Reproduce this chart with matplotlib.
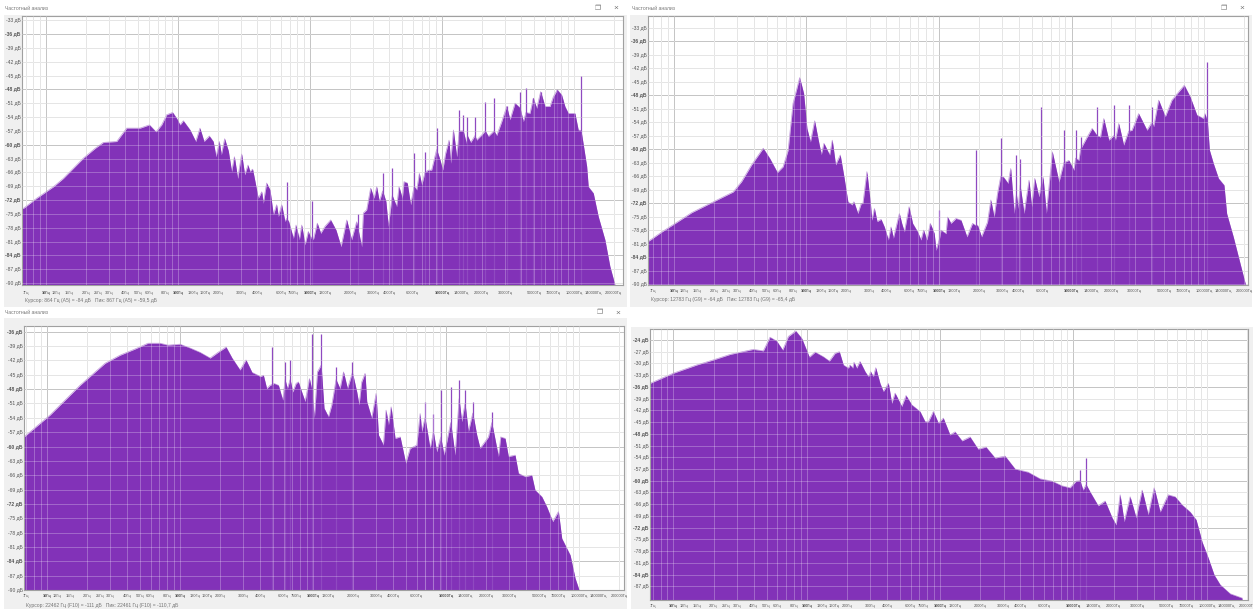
import numpy as np
import matplotlib
matplotlib.use('Agg')
import matplotlib.pyplot as plt
from matplotlib.patches import Rectangle

W, H = 1253, 609

# log10 of frequency (Hz) and level (dB)
lf1 = [.818, .828, .929, 1.056, 1.131, 1.283, 1.371, 1.434, 1.535, 1.611, 1.712, 1.783, 1.833, 1.876, 1.914, 1.959, 1.990,
       2.015, 2.040, 2.091, 2.134, 2.166, 2.197, 2.237, 2.267, 2.288, 2.313, 2.328, 2.353, 2.381, 2.406, 2.427, 2.452,
       2.482, 2.505, 2.530, 2.545, 2.565, 2.608, 2.634, 2.646, 2.671, 2.697, 2.722, 2.747, 2.760, 2.785, 2.810, 2.823,
       2.838, 2.874, 2.894, 2.919, 2.937, 2.962, 2.987, 3.007, 3.012, 3.025, 3.055, 3.081, 3.113, 3.156, 3.197, 3.235,
       3.278, 3.315, 3.353, 3.391, 3.404, 3.429, 3.459, 3.485, 3.505, 3.525, 3.550, 3.575, 3.593, 3.623, 3.656, 3.674,
       3.699, 3.712, 3.737, 3.762, 3.788, 3.808, 3.828, 3.846, 3.871, 3.896, 3.921, 3.959, 3.985, 4.005, 4.027, 4.053,
       4.065, 4.086, 4.111, 4.131, 4.161, 4.187, 4.192, 4.217, 4.250, 4.262, 4.300, 4.328, 4.351, 4.394, 4.414, 4.452,
       4.490, 4.515, 4.553, 4.591, 4.616, 4.636, 4.666, 4.692, 4.717, 4.747, 4.780, 4.818, 4.843, 4.873, 4.906, 4.931,
       4.957, 5.007, 5.032, 5.053, 5.065, 5.096, 5.108, 5.146, 5.184, 5.234, 5.272, 5.310]
db1 = [-73.8, -73.8, -71.6, -69.1, -67.3, -62.9, -60.8, -59.5, -59.3, -56.4, -56.4, -55.7, -57.2, -55.7, -53.5, -53.0, -54.3,
       -55.7, -54.8, -56.8, -59.3, -56.4, -59.3, -58.1, -59.3, -62.6, -59.3, -62.2, -58.7, -61.3, -65.8, -62.6, -67.3,
       -62.0, -66.5, -64.4, -65.8, -65.3, -71.6, -70.2, -72.7, -68.3, -69.8, -75.2, -73.0, -75.6, -73.0, -76.6, -76.0,
       -76.6, -80.3, -77.4, -80.6, -77.4, -81.7, -78.8, -80.3, -80.0, -80.6, -77.0, -79.2, -77.7, -76.3, -78.5, -82.1,
       -76.3, -80.6, -76.7, -82.1, -74.8, -74.1, -69.4, -71.6, -69.1, -72.3, -70.0, -72.3, -77.7, -71.0, -73.4, -69.1,
       -71.6, -68.0, -68.3, -73.0, -69.0, -69.8, -66.2, -68.7, -66.0, -65.5, -65.5, -61.0, -63.3, -65.5, -61.9, -59.0,
       -64.0, -56.8, -62.6, -57.0, -57.0, -60.0, -58.0, -59.5, -58.0, -59.0, -57.9, -57.0, -58.2, -57.0, -58.0, -55.0,
       -51.7, -54.6, -51.0, -52.0, -55.0, -53.0, -53.2, -49.9, -52.1, -48.5, -51.7, -51.7, -49.6, -48.1, -49.2, -51.7,
       -53.2, -53.2, -56.8, -56.9, -59.0, -64.7, -69.1, -70.5, -75.6, -80.6, -86.4, -90.4]
spike_lf1 = [2.823, 3.012, 3.360, 3.550, 3.623, 3.788, 3.871, 3.959, 4.131, 4.161, 4.192, 4.250, 4.328, 4.394, 4.490, 4.591,
             4.636, 4.692, 4.747, 4.873, 5.053]
spike_db1 = [-68.0, -72.3, -75.0, -66.2, -65.1, -61.9, -61.5, -56.4, -52.5, -53.5, -53.9, -53.9, -50.7, -49.9, -51.7, -48.5,
             -47.8, -49.9, -48.5, -48.1, -45.2]

lf2 = [.805, .822, .909, 1.010, 1.135, 1.298, 1.448, 1.511, 1.586, 1.674, 1.724, 1.781, 1.824, 1.862, 1.899, 1.949, 1.979,
       2.004, 2.030, 2.062, 2.087, 2.112, 2.132, 2.175, 2.195, 2.220, 2.255, 2.283, 2.313, 2.343, 2.358, 2.388, 2.413,
       2.426, 2.456, 2.483, 2.493, 2.513, 2.533, 2.563, 2.588, 2.618, 2.638, 2.656, 2.701, 2.719, 2.739, 2.774, 2.801,
       2.839, 2.864, 2.884, 2.909, 2.934, 2.964, 2.978, 3.003, 3.015, 3.053, 3.065, 3.090, 3.128, 3.166, 3.211, 3.253,
       3.278, 3.291, 3.321, 3.366, 3.391, 3.416, 3.441, 3.466, 3.486, 3.521, 3.541, 3.567, 3.584, 3.597, 3.612, 3.642,
       3.679, 3.699, 3.722, 3.754, 3.772, 3.785, 3.810, 3.855, 3.905, 3.942, 3.980, 4.018, 4.030, 4.055, 4.068, 4.118,
       4.155, 4.193, 4.218, 4.243, 4.281, 4.318, 4.331, 4.356, 4.393, 4.431, 4.456, 4.506, 4.569, 4.606, 4.619, 4.657,
       4.707, 4.757, 4.807, 4.850, 4.895, 4.945, 4.995, 5.007, 5.025, 5.040, 5.070, 5.108, 5.150, 5.170, 5.220, 5.271,
       5.313]
db2 = [-80.5, -80.2, -78.4, -76.5, -74.1, -71.7, -69.5, -67.2, -63.5, -59.8, -62.1, -65.2, -63.9, -60.2, -49.8, -44.1, -47.6,
       -55.4, -58.4, -53.7, -57.6, -61.2, -58.7, -61.3, -58.0, -63.5, -61.3, -66.1, -71.7, -72.4, -71.7, -74.3, -72.1,
       -72.1, -65.0, -72.1, -75.8, -73.2, -76.1, -75.6, -77.3, -80.2, -77.3, -79.8, -74.3, -76.5, -78.4, -72.8, -76.5,
       -78.4, -80.2, -78.0, -80.2, -76.5, -78.7, -82.5, -80.0, -78.0, -78.8, -75.1, -76.5, -75.4, -75.8, -79.5, -76.5,
       -77.0, -76.9, -79.5, -76.2, -71.3, -75.1, -69.9, -66.0, -66.2, -67.6, -64.3, -74.3, -70.0, -73.2, -68.0, -74.3,
       -66.9, -72.8, -66.5, -70.6, -68.0, -66.2, -74.3, -60.6, -67.3, -63.0, -62.5, -64.7, -62.0, -62.5, -60.0, -57.3,
       -55.4, -57.0, -57.3, -53.2, -58.0, -57.0, -58.0, -54.3, -59.1, -56.0, -55.8, -52.1, -55.8, -54.0, -55.0, -49.1,
       -52.8, -49.1, -47.3, -45.8, -48.4, -52.4, -53.2, -52.1, -54.0, -60.2, -63.2, -66.5, -68.0, -74.3, -79.5, -85.4,
       -90.2]
spike_lf2 = [3.003, 3.278, 3.466, 3.584, 3.612, 3.772, 3.942, 4.030, 4.068, 4.193, 4.318, 4.431, 4.606, 5.025]
spike_db2 = [-73.6, -60.2, -57.6, -61.3, -62.1, -50.6, -55.8, -55.8, -57.3, -50.6, -50.2, -50.2, -50.6, -40.6]

lf3 = [.827, 1.023, 1.248, 1.436, 1.549, 1.662, 1.759, 1.850, 1.910, 2.000, 2.075, 2.150, 2.226, 2.286, 2.346, 2.391, 2.451,
       2.496, 2.541, 2.586, 2.602, 2.627, 2.652, 2.677, 2.695, 2.707, 2.740, 2.772, 2.790, 2.807, 2.828, 2.848, 2.873,
       2.890, 2.915, 2.940, 2.973, 2.990, 3.010, 3.033, 3.061, 3.083, 3.116, 3.141, 3.173, 3.203, 3.229, 3.259, 3.296,
       3.329, 3.346, 3.366, 3.391, 3.404, 3.441, 3.474, 3.492, 3.529, 3.549, 3.567, 3.587, 3.617, 3.655, 3.697, 3.730,
       3.780, 3.805, 3.817, 3.842, 3.880, 3.905, 3.930, 3.960, 3.985, 4.035, 4.068, 4.098, 4.118, 4.143, 4.168, 4.201,
       4.231, 4.256, 4.319, 4.344, 4.394, 4.411, 4.444, 4.469, 4.519, 4.544, 4.594, 4.644, 4.669, 4.720, 4.757, 4.802,
       4.845, 4.870, 4.933, 4.970, 5.000]
db3 = [-58.0, -53.4, -47.2, -42.6, -40.9, -39.6, -38.4, -38.4, -38.8, -38.6, -39.4, -40.3, -41.5, -40.3, -39.2, -41.5, -44.0,
       -41.9, -44.5, -45.1, -45.4, -45.1, -47.9, -47.2, -47.0, -46.8, -47.2, -50.3, -46.0, -47.9, -46.0, -48.6, -46.8,
       -46.5, -48.6, -50.6, -45.8, -48.0, -54.1, -44.4, -43.0, -52.0, -53.8, -51.3, -46.0, -47.9, -44.4, -47.9, -44.5,
       -48.6, -51.3, -46.5, -44.7, -50.6, -54.1, -48.9, -57.6, -59.7, -52.4, -55.5, -51.7, -58.3, -58.0, -63.5, -60.4,
       -59.7, -53.1, -56.9, -54.0, -60.4, -57.0, -61.1, -58.0, -61.8, -55.0, -61.8, -50.0, -54.8, -51.0, -56.9, -53.0,
       -57.6, -60.4, -58.0, -55.0, -62.1, -58.0, -58.3, -62.1, -61.8, -65.6, -66.3, -66.0, -69.1, -70.5, -72.6, -75.7,
       -73.6, -79.2, -82.7, -87.5, -90.0]
spike_lf3 = [2.695, 2.790, 2.828, 2.990, 3.061, 3.173, 3.296, 3.842, 3.905, 3.960, 4.035, 4.098, 4.143, 4.201, 4.344]
spike_db3 = [-39.2, -42.3, -41.9, -36.4, -36.4, -43.3, -42.3, -50.6, -53.1, -48.2, -47.5, -46.1, -48.2, -50.6, -52.7]

lf4 = [.824, .999, 1.174, 1.299, 1.424, 1.599, 1.674, 1.724, 1.774, 1.819, 1.862, 1.917, 1.962, 2.019, 2.062, 2.124, 2.169,
       2.212, 2.244, 2.274, 2.312, 2.324, 2.344, 2.354, 2.374, 2.399, 2.437, 2.462, 2.479, 2.499, 2.517, 2.549, 2.574,
       2.612, 2.637, 2.662, 2.712, 2.744, 2.787, 2.849, 2.887, 2.912, 2.949, 2.987, 3.024, 3.074, 3.112, 3.164, 3.224,
       3.284, 3.344, 3.412, 3.487, 3.562, 3.659, 3.749, 3.839, 3.914, 3.974, 4.020, 4.049, 4.072, 4.095, 4.125, 4.185,
       4.237, 4.290, 4.320, 4.350, 4.380, 4.425, 4.470, 4.515, 4.560, 4.605, 4.650, 4.710, 4.762, 4.815, 4.875, 4.920,
       4.965, 5.010, 5.055, 5.100, 5.175, 5.265]
db4 = [-35.1, -32.5, -30.4, -29.1, -27.7, -26.4, -26.8, -23.3, -24.3, -26.6, -23.1, -21.7, -23.6, -28.4, -27.1, -28.3, -29.4,
       -27.4, -27.0, -30.4, -31.2, -30.4, -31.2, -29.7, -31.2, -29.5, -32.1, -33.4, -32.1, -33.4, -31.1, -35.1, -37.2,
       -35.1, -40.2, -37.6, -41.0, -38.2, -40.6, -42.3, -44.9, -44.9, -42.3, -45.3, -44.0, -48.3, -47.5, -49.8, -48.8,
       -51.9, -51.4, -54.2, -53.7, -57.0, -57.8, -59.5, -60.1, -61.3, -61.8, -60.1, -60.0, -62.4, -61.0, -62.9, -66.4,
       -65.2, -69.5, -71.3, -63.6, -70.5, -64.1, -69.5, -62.4, -68.7, -61.8, -68.0, -63.6, -64.1, -66.2, -68.0, -70.0,
       -75.7, -79.7, -84.1, -86.6, -88.9, -90.0]
spike_lf4 = [4.049, 4.095]
spike_db4 = [-57.2, -54.2]

tick_freqs = [7, 10, 12, 15, 20, 25, 30, 40, 50, 60, 80, 100, 130, 160, 200, 300, 400, 600, 750, 1000, 1300, 2000,
              3000, 4000, 6000, 10000, 14000, 20000, 30000, 50000, 70000, 100000, 140000, 200000]
bold_freqs = [10, 100, 1000, 10000]
title = 'Частотный анализ'
status1 = 'Курсор: 864 Гц (A5) = -84 дБ   Пик: 867 Гц (A5) = -59,5 дБ'
status2 = 'Курсор: 12783 Гц (G9) = -64 дБ   Пик: 12783 Гц (G9) = -65,4 дБ'
status3 = 'Курсор: 22462 Гц (F10) = -111 дБ   Пик: 22461 Гц (F10) = -110,7 дБ'

# window box, plot box (pixels), x range as log10 Hz, y range, top row, title and status text
panels = [
    dict(lf=lf1, db=db1, slf=spike_lf1, sdb=spike_db1, win=(4, 15, 627, 307), box=(22, 16, 623, 285), xl=(.818, 5.371),
         yl=(-90.4, -32.1), top=-33, title=(5, 9), btn=(598, 616, 8), status=status1, sx=25, sy=300, ty=291),
    dict(lf=lf2, db=db2, slf=spike_lf2, sdb=spike_db2, win=(630, 15, 1252, 307), box=(648, 16, 1248, 285), xl=(.805, 5.331),
         yl=(-90.2, -30.4), top=-33, title=(632, 9), btn=(1224, 1242, 8), status=status2, sx=651, sy=299, ty=290),
    dict(lf=lf3, db=db3, slf=spike_lf3, sdb=spike_db3, win=(4, 318, 627, 609), box=(24, 326, 624, 590), xl=(.827, 5.338),
         yl=(-90.0, -34.8), top=-36, title=(5, 312), btn=(600, 618, 313), status=status3, sx=26, sy=605, ty=595),
    dict(lf=lf4, db=db4, slf=spike_lf4, sdb=spike_db4, win=(631, 327, 1253, 609), box=(650, 329, 1248, 600), xl=(.824, 5.309),
         yl=(-90.5, -21.2), top=-24, title=None, btn=None, status=None, sx=0, sy=0, ty=605),
]

plt.rcParams['font.family'] = ['Liberation Sans', 'DejaVu Sans']
fig = plt.figure(figsize=(W / 100, H / 100), dpi=100, facecolor='white')


def put_text(x, y, s, **kw):
    fig.text(x / W, 1 - y / H, s, va='center', color='#555555', alpha=.8, **kw)


for p in panels:
    x0, y0, x1, y1 = p['win']
    fig.add_artist(Rectangle((x0 / W, 1 - y1 / H), (x1 - x0) / W, (y1 - y0) / H, transform=fig.transFigure,
                             facecolor='#f0f0f0', edgecolor='none', zorder=-5))
    x0, y0, x1, y1 = p['box']
    ax = fig.add_axes([x0 / W, 1 - y1 / H, (x1 - x0) / W, (y1 - y0) / H], facecolor='white')
    freq = 10 ** np.array(p['lf'])
    ax.set_xscale('log')
    ax.set_xlim(10 ** p['xl'][0], 10 ** p['xl'][1])
    ax.set_ylim(*p['yl'])

    ax.fill_between(freq, p['db'], -120, color='#8232b8', lw=0, zorder=2)
    ax.plot(freq, p['db'], color='#8232b8', lw=.5, alpha=.5, zorder=2)
    ax.vlines(10 ** np.array(p['slf']), -120, p['sdb'], color='#8f49c0', lw=.9, zorder=2)

    rows = list(range(p['top'], -91, -3))
    if p['top'] == -24:
        rows = rows[:-1]
    for d in rows:
        bold = d % 12 == 0
        ax.axhline(d, color='#b0b0b0' if bold else '#dcdcdc', lw=.7, zorder=1)
        ax.axhline(d, color='white', lw=.6, alpha=.3, zorder=3)
    for dec in [1, 10, 100, 1000, 10000, 100000]:
        for m in range(1, 10):
            f = dec * m
            if 10 ** p['xl'][0] < f < 10 ** p['xl'][1]:
                ax.axvline(f, color='#b0b0b0' if f in bold_freqs else '#dcdcdc', lw=.7, zorder=1)
                ax.axvline(f, color='white', lw=.6, alpha=.3, zorder=3)

    ax.set_yticks(rows, [f'{d} дБ' for d in rows], fontsize=3.6, color='#555555')
    for lab, d in zip(ax.get_yticklabels(), rows):
        if d % 12 == 0:
            lab.set_fontweight('bold')
    ax.set_xticks(tick_freqs, [f'{f}Гц' for f in tick_freqs], fontsize=2.8, color='#555555')
    ax.minorticks_off()
    for lab, f in zip(ax.get_xticklabels(), tick_freqs):
        if f in bold_freqs:
            lab.set_fontweight('bold')
    ax.tick_params(length=0, axis='y', pad=1)
    ax.tick_params(length=0, axis='x', pad=p['ty'] - y1 - 2)
    for s in ax.spines.values():
        s.set_color('#a0a0a0')
        s.set_linewidth(.8)

    if p['title']:
        put_text(p['title'][0], p['title'][1], title, fontsize=3.6)
    if p['btn']:
        put_text(p['btn'][0], p['btn'][2], '❐', fontsize=5, ha='center')
        put_text(p['btn'][1], p['btn'][2], '×', fontsize=6, ha='center')
    if p['status']:
        put_text(p['sx'], p['sy'], p['status'], fontsize=3.6)

fig.savefig('out.png', dpi=100)
